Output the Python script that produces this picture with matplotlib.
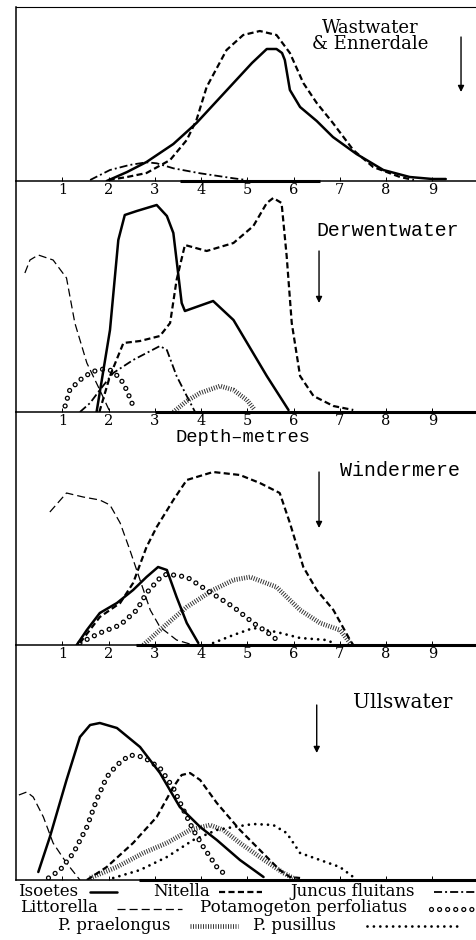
import matplotlib
matplotlib.use("Agg")
import matplotlib.pyplot as plt

plt.rcParams['lines.scale_dashes'] = False

# ---- data: depth (m) and relative abundance ----
LAKES = ["Wastwater\n& Ennerdale", "Derwentwater", "Windermere", "Ullswater"]
TICKS = [1, 2, 3, 4, 5, 6, 7, 8, 9]

# Wastwater & Ennerdale
wast_isoetes_d = [1.96, 2.4, 2.82, 3.4, 3.9, 4.3, 4.7, 5.1, 5.42, 5.63, 5.75, 5.81, 5.92, 6.14, 6.5, 6.85, 7.36, 7.94, 8.51, 9.0, 9.29]
wast_isoetes_y = [0, 9, 19, 37, 58, 78, 98, 118, 132, 132, 128, 121, 91, 74, 60, 44, 27, 11, 4, 2, 2]
wast_nitella_d = [2.0, 2.4, 2.82, 3.33, 3.69, 3.9, 4.12, 4.55, 4.91, 5.27, 5.63, 5.92, 6.21, 6.5, 6.85, 7.29, 7.72, 8.3, 8.6]
wast_nitella_y = [1, 4, 8, 21, 41, 61, 94, 131, 146, 150, 146, 128, 98, 78, 58, 31, 14, 4, 1]
wast_juncus_d = [1.6, 2.03, 2.45, 2.82, 3.04, 3.4, 3.98, 4.7, 4.98]
wast_juncus_y = [1, 11, 16, 18.7, 17.7, 12.7, 7.7, 2.7, 1]
wast_trace = (3.55, 6.57)

# Derwentwater
derw_isoetes_d = [1.74, 2.03, 2.21, 2.35, 2.61, 3.04, 3.26, 3.4, 3.58, 3.65, 4.26, 4.7, 5.42, 5.89]
derw_isoetes_y = [0, 82, 172, 197, 201, 207, 196, 179, 109, 101, 111, 92, 36, 2]
derw_nitella_d = [1.8, 2.03, 2.32, 2.68, 3.11, 3.33, 3.47, 3.65, 4.12, 4.7, 5.13, 5.42, 5.56, 5.74, 5.85, 5.96, 6.14, 6.43, 6.86, 7.29]
derw_nitella_y = [0, 36, 69, 71, 76, 89, 132, 167, 161, 169, 186, 209, 214, 209, 156, 89, 36, 16, 6, 2]
derw_littorella_d = [0.19, 0.3, 0.48, 0.8, 1.09, 1.27, 1.53, 1.81, 2.03]
derw_littorella_y = [139, 152, 157, 152, 134, 89, 49, 22, 0]
derw_juncus_d = [1.38, 1.6, 1.81, 2.1, 2.53, 3.11, 3.26, 3.47, 3.69, 3.87]
derw_juncus_y = [0, 9, 22, 39, 52, 66, 62, 36, 16, 0]
derw_perfoliatus_d = [1.06, 1.16, 1.38, 1.6, 1.81, 2.03, 2.25, 2.39, 2.53]
derw_perfoliatus_y = [6, 22, 32, 39, 43, 42, 34, 22, 6]
derw_praelongus_d = [3.4, 3.69, 3.98, 4.41, 4.7, 4.99, 5.16]
derw_praelongus_y = [0, 11, 19, 26, 22, 12, 2]
derw_trace = (3.0, 9.96)

# Windermere
wind_littorella_d = [0.73, 1.09, 1.45, 1.81, 2.03, 2.25, 2.46, 2.68, 2.9, 3.11, 3.47, 3.83]
wind_littorella_y = [133, 152, 148, 145, 140, 122, 95, 65, 35, 18, 5, 0]
wind_nitella_d = [1.38, 1.81, 2.25, 2.53, 2.82, 3.04, 3.4, 3.69, 4.26, 4.84, 5.27, 5.7, 5.92, 6.21, 6.5, 6.86, 7.22, 7.29]
wind_nitella_y = [2, 28, 42, 62, 98, 118, 145, 165, 173, 170, 162, 152, 122, 78, 55, 35, 5, 0]
wind_isoetes_d = [1.31, 1.53, 1.81, 2.18, 2.53, 2.82, 3.07, 3.26, 3.47, 3.69, 3.94]
wind_isoetes_y = [0, 15, 32, 42, 55, 68, 78, 75, 48, 22, 2]
wind_perfoliatus_d = [1.38, 1.81, 2.25, 2.61, 2.82, 3.11, 3.26, 3.69, 4.12, 4.7, 5.13, 5.42, 5.7]
wind_perfoliatus_y = [2, 12, 20, 35, 52, 67, 71, 68, 55, 38, 22, 13, 3]
wind_praelongus_d = [2.75, 3.11, 3.69, 4.26, 4.7, 5.06, 5.63, 6.14, 6.57, 7.0, 7.22]
wind_praelongus_y = [0, 15, 38, 55, 65, 68, 58, 35, 22, 15, 2]
wind_pusillus_d = [4.26, 4.7, 5.13, 5.63, 6.14, 6.71, 6.86]
wind_pusillus_y = [2, 10, 17, 13, 7, 5, 2]
wind_trace = (2.6, 9.96)

# Ullswater
ulls_isoetes_d = [0.48, 0.73, 1.09, 1.38, 1.6, 1.81, 2.18, 2.68, 3.11, 3.54, 3.98, 4.34, 4.84, 5.35]
ulls_isoetes_y = [8, 43, 100, 143, 155, 157, 152, 133, 107, 73, 53, 40, 20, 3]
ulls_littorella_d = [0.06, 0.23, 0.37, 0.59, 0.8, 1.09, 1.38]
ulls_littorella_y = [85, 88, 83, 63, 37, 17, 0]
ulls_perfoliatus_d = [0.7, 0.95, 1.24, 1.53, 1.74, 1.96, 2.18, 2.46, 2.75, 3.11, 3.4, 3.62, 3.83, 4.05, 4.34, 4.55]
ulls_perfoliatus_y = [2, 10, 27, 53, 80, 103, 115, 125, 123, 112, 92, 70, 50, 33, 13, 4]
ulls_nitella_d = [1.53, 1.96, 2.53, 3.04, 3.4, 3.58, 3.76, 3.98, 4.34, 4.84, 5.27, 5.7, 5.92, 6.14]
ulls_nitella_y = [0, 13, 37, 63, 93, 105, 107, 100, 77, 50, 30, 10, 3, 2]
ulls_praelongus_d = [1.6, 2.18, 2.75, 3.26, 3.76, 4.19, 4.48, 4.84, 5.27, 5.78, 5.99]
ulls_praelongus_y = [2, 13, 27, 37, 50, 55, 50, 37, 23, 7, 2]
ulls_pusillus_d = [2.1, 2.68, 3.26, 3.83, 4.34, 4.7, 5.13, 5.56, 5.85, 6.14, 6.57, 7.0, 7.29]
ulls_pusillus_y = [2, 10, 23, 40, 50, 53, 56, 55, 47, 27, 20, 13, 3]
ulls_trace = (2.65, 9.96)

# ---- styles ----
STYLE = {
    "Isoetes": dict(color="k", lw=1.8, ls="-", solid_capstyle="round"),
    "Nitella": dict(color="k", lw=1.6, ls=(0, (4.4, 2.4))),
    "Juncus fluitans": dict(color="k", lw=1.3, ls=(0, (5.8, 2.2, 1.4, 2.2))),
    "Littorella": dict(color="k", lw=0.9, ls=(0, (5.8, 2.9))),
    "P. praelongus": dict(color="0.2", lw=3.4, ls=(0, (0.7, 1.1)), dash_capstyle="butt"),
    "P. pusillus": dict(color="k", lw=2.0, ls=(0, (0.01, 4.6)), dash_capstyle="round"),
}
RING_DASH = (0, (0.01, 5.8))


def draw(ax, name, d, y):
    if name == "Potamogeton perfoliatus":
        ax.plot(d, y, color="k", lw=3.8, ls=RING_DASH, dash_capstyle="round")
        ax.plot(d, y, color="w", lw=2.0, ls=RING_DASH, dash_capstyle="round")
    else:
        ax.plot(d, y, **STYLE[name])


W, H = 477, 940
X0_PX = 16.1
PX_PER_M = 46.25
XMAX = (W - X0_PX) / PX_PER_M
PANEL_PX = [(7, 181), (181, 412), (412, 645), (645, 880)]

series = [
    [("Juncus fluitans", wast_juncus_d, wast_juncus_y),
     ("Nitella", wast_nitella_d, wast_nitella_y),
     ("Isoetes", wast_isoetes_d, wast_isoetes_y)],
    [("Littorella", derw_littorella_d, derw_littorella_y),
     ("Juncus fluitans", derw_juncus_d, derw_juncus_y),
     ("Potamogeton perfoliatus", derw_perfoliatus_d, derw_perfoliatus_y),
     ("P. praelongus", derw_praelongus_d, derw_praelongus_y),
     ("Nitella", derw_nitella_d, derw_nitella_y),
     ("Isoetes", derw_isoetes_d, derw_isoetes_y)],
    [("Littorella", wind_littorella_d, wind_littorella_y),
     ("P. praelongus", wind_praelongus_d, wind_praelongus_y),
     ("P. pusillus", wind_pusillus_d, wind_pusillus_y),
     ("Potamogeton perfoliatus", wind_perfoliatus_d, wind_perfoliatus_y),
     ("Nitella", wind_nitella_d, wind_nitella_y),
     ("Isoetes", wind_isoetes_d, wind_isoetes_y)],
    [("Littorella", ulls_littorella_d, ulls_littorella_y),
     ("P. praelongus", ulls_praelongus_d, ulls_praelongus_y),
     ("P. pusillus", ulls_pusillus_d, ulls_pusillus_y),
     ("Potamogeton perfoliatus", ulls_perfoliatus_d, ulls_perfoliatus_y),
     ("Nitella", ulls_nitella_d, ulls_nitella_y),
     ("Isoetes", ulls_isoetes_d, ulls_isoetes_y)],
]
traces = [wast_trace, derw_trace, wind_trace, ulls_trace]

# title position (depth, height, ha, font, size), arrow (depth, top, bottom)
title_pos = [(7.65, 145, "center", "DejaVu Serif", 13),
             (6.5, 182, "left", "Liberation Mono", 14.3),
             (7.0, 175, "left", "Liberation Mono", 14.4),
             (7.28, 177, "left", "DejaVu Serif", 14.5)]
arrow_pos = [(9.62, 144, 89), (6.55, 161, 109), (6.55, 173, 117), (6.5, 175, 127)]

fig = plt.figure(figsize=(W / 100, H / 100), dpi=100)

for i, (top, base) in enumerate(PANEL_PX):
    ax = fig.add_axes([X0_PX / W, 1 - base / H, 1 - X0_PX / W, (base - top) / H])
    ax.set_facecolor("none")
    ax.set_xlim(0, XMAX)
    ax.set_ylim(0, base - top)
    for s in ["right"] + ([] if i == 0 else ["top"]):
        ax.spines[s].set_visible(False)
    ax.spines["left"].set_linewidth(1.1)
    ax.spines["top"].set_linewidth(0.8)
    ax.spines["bottom"].set_linewidth(1.1)
    ax.set_yticks([])
    ax.set_xticks(TICKS)
    if i < 3:
        ax.set_xticklabels([str(t) for t in TICKS], family="DejaVu Serif", fontsize=10.5)
    else:
        ax.set_xticklabels([])
    ax.tick_params(axis="x", direction="in", length=3, width=0.7, pad=1.5)

    for name, d, y in series[i]:
        draw(ax, name, d, y)
    ax.plot(traces[i], [0, 0], color="k", lw=2.2, solid_capstyle="butt", clip_on=False)

    tx, ty, ha, fam, fs = title_pos[i]
    ax.text(tx, ty, LAKES[i], ha=ha, va="center", family=fam, fontsize=fs, linespacing=0.9)
    ax_, a_top, a_bot = arrow_pos[i]
    ax.annotate("", xy=(ax_, a_bot), xytext=(ax_, a_top),
                arrowprops=dict(arrowstyle="-|>", color="k", lw=1.0, mutation_scale=9, shrinkA=0, shrinkB=0))

# ---- legend (text with line samples) ----
legend_rows = [
    (891, [(18, "Isoetes", 90, 117), (153, "Nitella", 219, 262), (290, "Juncus fluitans", 434, 477)]),
    (908, [(20, "Littorella", 117, 182), (200, "Potamogeton perfoliatus", 431, 477)]),
    (925, [(58, "P. praelongus", 190, 238), (253, "P. pusillus", 367, 460)]),
]

lax = fig.add_axes([0, 0, 1, 1])
lax.set_xlim(0, W)
lax.set_ylim(H, 0)
lax.axis("off")
lax.text(243, 438, "Depth–metres", ha="center", va="center", family="Liberation Mono", fontsize=13.5)
for y, items in legend_rows:
    for tx, label, x1, x2 in items:
        lax.text(tx, y, label, ha="left", va="center", family="DejaVu Serif", fontsize=12)
        draw(lax, label, [x1, x2], [y + 1, y + 1])

fig.savefig("out.png", dpi=100)
